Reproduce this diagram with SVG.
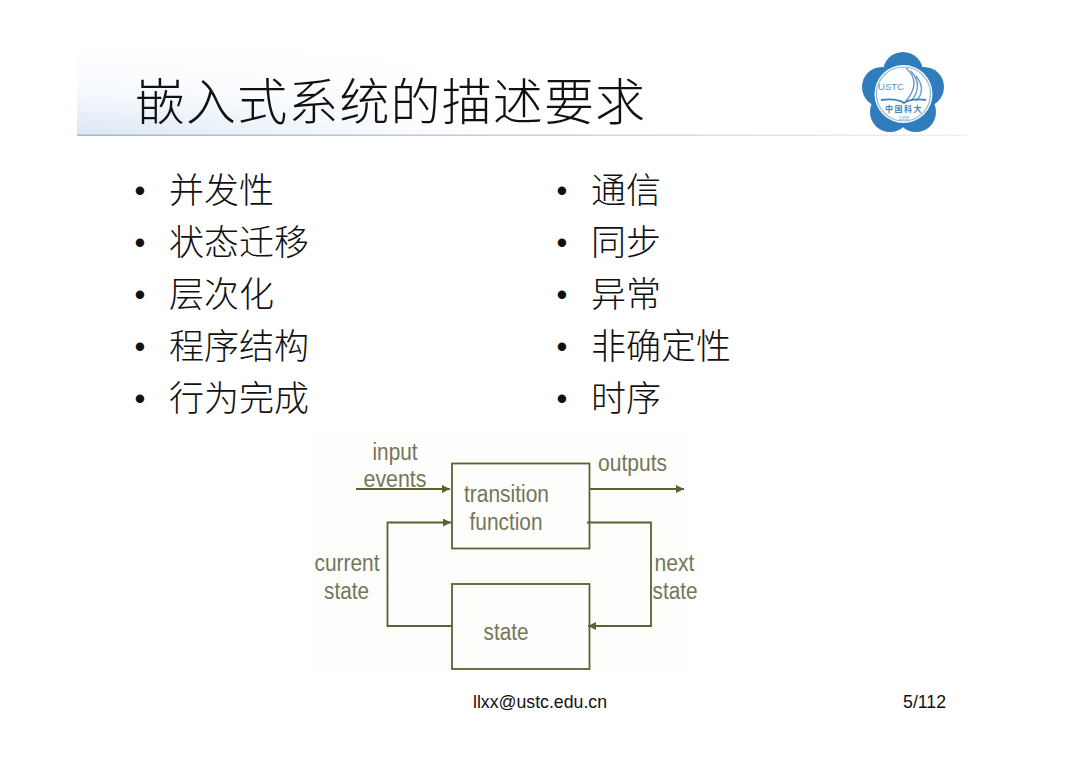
<svg xmlns="http://www.w3.org/2000/svg" width="1080" height="763" viewBox="0 0 1080 763">
<defs>
<linearGradient id="hdr" x1="0" y1="0" x2="0" y2="1"><stop offset="0" stop-color="#ffffff"/><stop offset="0.55" stop-color="#f6f9fd"/><stop offset="1" stop-color="#dbe7f5"/></linearGradient>
<linearGradient id="fade" x1="0" y1="0" x2="1" y2="0"><stop offset="0" stop-color="#fff" stop-opacity="0"/><stop offset="0.45" stop-color="#fff" stop-opacity="1"/></linearGradient>
<linearGradient id="rule" x1="0" y1="0" x2="1" y2="0"><stop offset="0" stop-color="#9db8d8"/><stop offset="0.6" stop-color="#c6d8ea"/><stop offset="1" stop-color="#eef4f8"/></linearGradient>
<marker id="arr" markerWidth="8" markerHeight="8" refX="8" refY="4" orient="auto" markerUnits="userSpaceOnUse"><path d="M0 0L8 4L0 8z" fill="#5f5f32"/></marker>
</defs>
<style>
.cn{font-family:"Noto Sans CJK SC","Noto Sans CJK TC",serif;fill:#111}
.t{font-size:50px;font-weight:300}
.b{font-size:35px;font-weight:300}
.dot{font-family:"Liberation Sans",sans-serif;font-size:31px;fill:#111}
.lab{font-family:"Liberation Sans",sans-serif;font-size:23px;fill:#75755a;text-anchor:middle}
.box{fill:none;stroke:#5f5f32;stroke-width:1.800}
.con{fill:none;stroke:#5f5f32;stroke-width:1.800}
.foot{font-family:"Liberation Sans",sans-serif;font-size:17.700px;fill:#111}
</style>
<rect width="1080" height="763" fill="#fff"/>
<g id="header">
<rect x="77" y="40" width="890" height="95" fill="url(#hdr)"/>
<rect x="77" y="40" width="890" height="95" fill="url(#fade)"/>
<rect x="77" y="134.500" width="890" height="1.500" fill="url(#rule)"/>
<text class="cn t" x="135" y="120" textLength="510">嵌入式系统的描述要求</text>
</g>
<g id="logo">
<g fill="#2f7dbd"><circle cx="903" cy="72" r="20"/><circle cx="924" cy="87" r="20"/><circle cx="916" cy="112" r="20"/><circle cx="890" cy="112" r="20"/><circle cx="882" cy="87" r="20"/><circle cx="903" cy="94" r="30"/></g>
<circle cx="903.500" cy="94" r="29" fill="#fff"/><circle cx="903.500" cy="94" r="27" fill="none" stroke="#8db8dc" stroke-width="1.200"/>
<path d="M906 68Q922 82 906 101M911 71Q924 86 911 101M916 76Q927 90 916 101" fill="none" stroke="#6f9cc4" stroke-width="1.400"/>
<path d="M881 100Q897 98 904 103Q911 98 926 100" fill="none" stroke="#3f82ba" stroke-width="1.800"/>
<text x="891" y="90" font-family="Liberation Sans,sans-serif" font-size="9.500" fill="#5a93c4" text-anchor="middle">USTC</text>
<text x="904" y="112" font-family="Noto Sans CJK SC,sans-serif" font-size="8" font-weight="700" letter-spacing="1.500" fill="#3f82ba" text-anchor="middle">中国科大</text>
<text x="904" y="120" font-family="Liberation Sans,sans-serif" font-size="5" fill="#7faacd" text-anchor="middle">1958</text>
</g>
<g id="left-list">
<text class="dot" x="134.500" y="200.500">•</text><text class="cn b" x="169" y="203">并发性</text>
<text class="dot" x="134.500" y="252.500">•</text><text class="cn b" x="169" y="255">状态迁移</text>
<text class="dot" x="134.500" y="304.500">•</text><text class="cn b" x="169" y="307">层次化</text>
<text class="dot" x="134.500" y="356.500">•</text><text class="cn b" x="169" y="359">程序结构</text>
<text class="dot" x="134.500" y="408.500">•</text><text class="cn b" x="169" y="411">行为完成</text>
</g>
<g id="right-list">
<text class="dot" x="556.500" y="200.500">•</text><text class="cn b" x="591" y="203">通信</text>
<text class="dot" x="556.500" y="252.500">•</text><text class="cn b" x="591" y="255">同步</text>
<text class="dot" x="556.500" y="304.500">•</text><text class="cn b" x="591" y="307">异常</text>
<text class="dot" x="556.500" y="356.500">•</text><text class="cn b" x="591" y="359">非确定性</text>
<text class="dot" x="556.500" y="408.500">•</text><text class="cn b" x="591" y="411">时序</text>
</g>
<rect x="312" y="434" width="372" height="238" fill="#fdfdfc"/>
<g id="connectors">
<path class="con" d="M356 489H450" marker-end="url(#arr)"/>
<path class="con" d="M590 489H684" marker-end="url(#arr)"/>
<path class="con" d="M452 626H387.500V522.500H451" marker-end="url(#arr)"/>
<path class="con" d="M587 522.500H651V626H588" marker-end="url(#arr)"/>
</g>
<g id="transition-function">
<rect class="box" x="452" y="463.500" width="137.500" height="85"/>
<text class="lab" x="506.500" y="501.500" textLength="85" lengthAdjust="spacingAndGlyphs">transition</text>
<text class="lab" x="506" y="529.500" textLength="73" lengthAdjust="spacingAndGlyphs">function</text>
</g>
<g id="state">
<rect class="box" x="452" y="584" width="137.500" height="85"/>
<text class="lab" x="506" y="639.500" textLength="45" lengthAdjust="spacingAndGlyphs">state</text>
</g>
<g id="labels">
<text class="lab" x="395" y="459.500" textLength="45" lengthAdjust="spacingAndGlyphs">input</text>
<text class="lab" x="395" y="486.500" textLength="63" lengthAdjust="spacingAndGlyphs">events</text>
<text class="lab" x="632.500" y="470.500" textLength="69" lengthAdjust="spacingAndGlyphs">outputs</text>
<text class="lab" x="347" y="570.500" textLength="65" lengthAdjust="spacingAndGlyphs">current</text>
<text class="lab" x="346.500" y="598.500" textLength="45" lengthAdjust="spacingAndGlyphs">state</text>
<text class="lab" x="674.500" y="570.500" textLength="40" lengthAdjust="spacingAndGlyphs">next</text>
<text class="lab" x="675" y="598.500" textLength="45" lengthAdjust="spacingAndGlyphs">state</text>
</g>
<g id="footer">
<text class="foot" x="540" y="708" text-anchor="middle">llxx@ustc.edu.cn</text>
<text class="foot" x="946" y="708" text-anchor="end">5/112</text>
</g>
</svg>
